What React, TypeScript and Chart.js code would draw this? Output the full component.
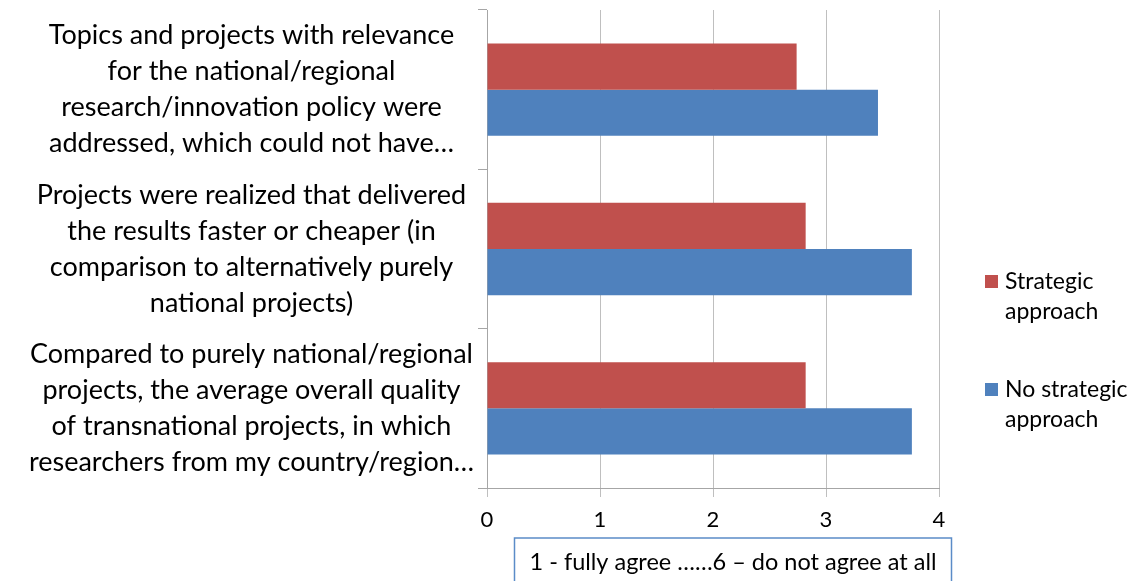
import React, { useEffect, useRef } from 'react';
import { Chart, registerables } from 'chart.js';

Chart.register(...registerables);

const categories: string[][] = [
  ['Topics and projects with relevance', 'for the national/regional', 'research/innovation policy were', 'addressed, which could not have…'],
  ['Projects were realized that delivered', 'the results faster or cheaper (in', 'comparison to alternatively purely', 'national projects)'],
  ['Compared to purely national/regional', 'projects, the average overall quality', 'of transnational projects, in which', 'researchers from my country/region…'],
];
const seriesNames = ['Strategic approach', 'No strategic approach'];
const strategicValues = [2.74, 2.82, 2.82];
const noStrategicValues = [3.46, 3.76, 3.76];
const seriesColors = ['#C0504D', '#4F81BD'];
const xMin = 0;
const xMax = 4;
const axisTitle = '1 - fully agree ……6 – do not agree at all';

const FONT = 'Lato, "Open Sans", sans-serif';

function wrapWords(ctx: CanvasRenderingContext2D, text: string, maxWidth: number): string[] {
  const words = text.split(' ');
  const lines: string[] = [];
  let cur = '';
  for (const w of words) {
    const test = cur ? cur + ' ' + w : w;
    if (cur && ctx.measureText(test).width > maxWidth) {
      lines.push(cur);
      cur = w;
    } else {
      cur = test;
    }
  }
  if (cur) lines.push(cur);
  return lines;
}

const legendPlugin = {
  id: 'sideLegend',
  afterDraw(chart: any) {
    const ctx: CanvasRenderingContext2D = chart.ctx;
    const area = chart.chartArea;
    ctx.save();
    ctx.font = `23px ${FONT}`;
    ctx.textBaseline = 'middle';
    ctx.textAlign = 'left';
    const boxX = area.right + 46;
    const textX = boxX + 20;
    const maxW = chart.width - textX - 4;
    const firstY = 282;
    const itemGap = 108;
    const lineH = 30;
    chart.data.datasets.forEach((ds: any, i: number) => {
      const y0 = firstY + i * itemGap;
      ctx.fillStyle = ds.backgroundColor;
      ctx.fillRect(boxX, y0 - 7, 13, 13);
      ctx.fillStyle = '#000000';
      const lines = wrapWords(ctx, ds.label, maxW);
      lines.forEach((ln, j) => ctx.fillText(ln, textX, y0 + j * lineH));
    });
    ctx.restore();
  },
};

const axisBoxPlugin = {
  id: 'axisBox',
  afterDraw(chart: any) {
    const ctx: CanvasRenderingContext2D = chart.ctx;
    const xs = chart.scales.x;
    ctx.save();
    ctx.font = `23.5px ${FONT}`;
    const tw = ctx.measureText(axisTitle).width;
    const cx = (xs.left + xs.right) / 2 + 20;
    const w = tw + 30;
    const top = xs.bottom - 43;
    ctx.strokeStyle = '#5B8CC8';
    ctx.lineWidth = 1.5;
    ctx.strokeRect(cx - w / 2, top, w, 60);
    ctx.fillStyle = '#000000';
    ctx.textAlign = 'center';
    ctx.textBaseline = 'middle';
    ctx.fillText(axisTitle, cx, top + 24);
    ctx.restore();
  },
};

export default function App() {
  const ref = useRef<HTMLCanvasElement | null>(null);
  useEffect(() => {
    if (!ref.current) return;
    const chart = new Chart(ref.current, {
      type: 'bar',
      data: {
        labels: categories,
        datasets: [
          { label: seriesNames[0], data: strategicValues, backgroundColor: seriesColors[0], borderWidth: 0 },
          { label: seriesNames[1], data: noStrategicValues, backgroundColor: seriesColors[1], borderWidth: 0 },
        ],
      },
      options: {
        indexAxis: 'y',
        responsive: false,
        animation: false,
        devicePixelRatio: 1,
        layout: { padding: { top: 10, right: 201, left: 0, bottom: 0 } },
        datasets: { bar: { categoryPercentage: 0.58, barPercentage: 1.0 } },
        plugins: {
          legend: { display: false },
          tooltip: { enabled: false },
        },
        scales: {
          x: {
            type: 'linear',
            min: xMin,
            max: xMax,
            ticks: { stepSize: 1, color: '#000000', font: { family: FONT, size: 22 }, padding: 10 },
            grid: { color: '#BFBFBF', lineWidth: 1, tickLength: 9, drawTicks: true },
            border: { color: '#A6A6A6', width: 1 },
            afterFit: (scale: any) => { scale.height = 93; },
          },
          y: {
            type: 'category',
            ticks: { color: '#000000', font: { family: FONT, size: 27, lineHeight: '36px' }, crossAlign: 'center', padding: 4, autoSkip: false },
            grid: { drawOnChartArea: false, color: '#A6A6A6', tickLength: 9, offset: true },
            border: { color: '#A6A6A6', width: 1 },
            afterFit: (scale: any) => {
              scale.width = 487;
              scale.paddingTop = 0;
              scale.paddingBottom = 0;
            },
          },
        },
      },
      plugins: [legendPlugin, axisBoxPlugin],
    } as any);
    return () => chart.destroy();
  }, []);
  return (
    <div style={{ position: 'absolute', left: 0, top: 0, width: 1140, height: 581, background: '#ffffff' }}>
      <canvas ref={ref} width={1140} height={581} style={{ display: 'block' }} />
    </div>
  );
}
